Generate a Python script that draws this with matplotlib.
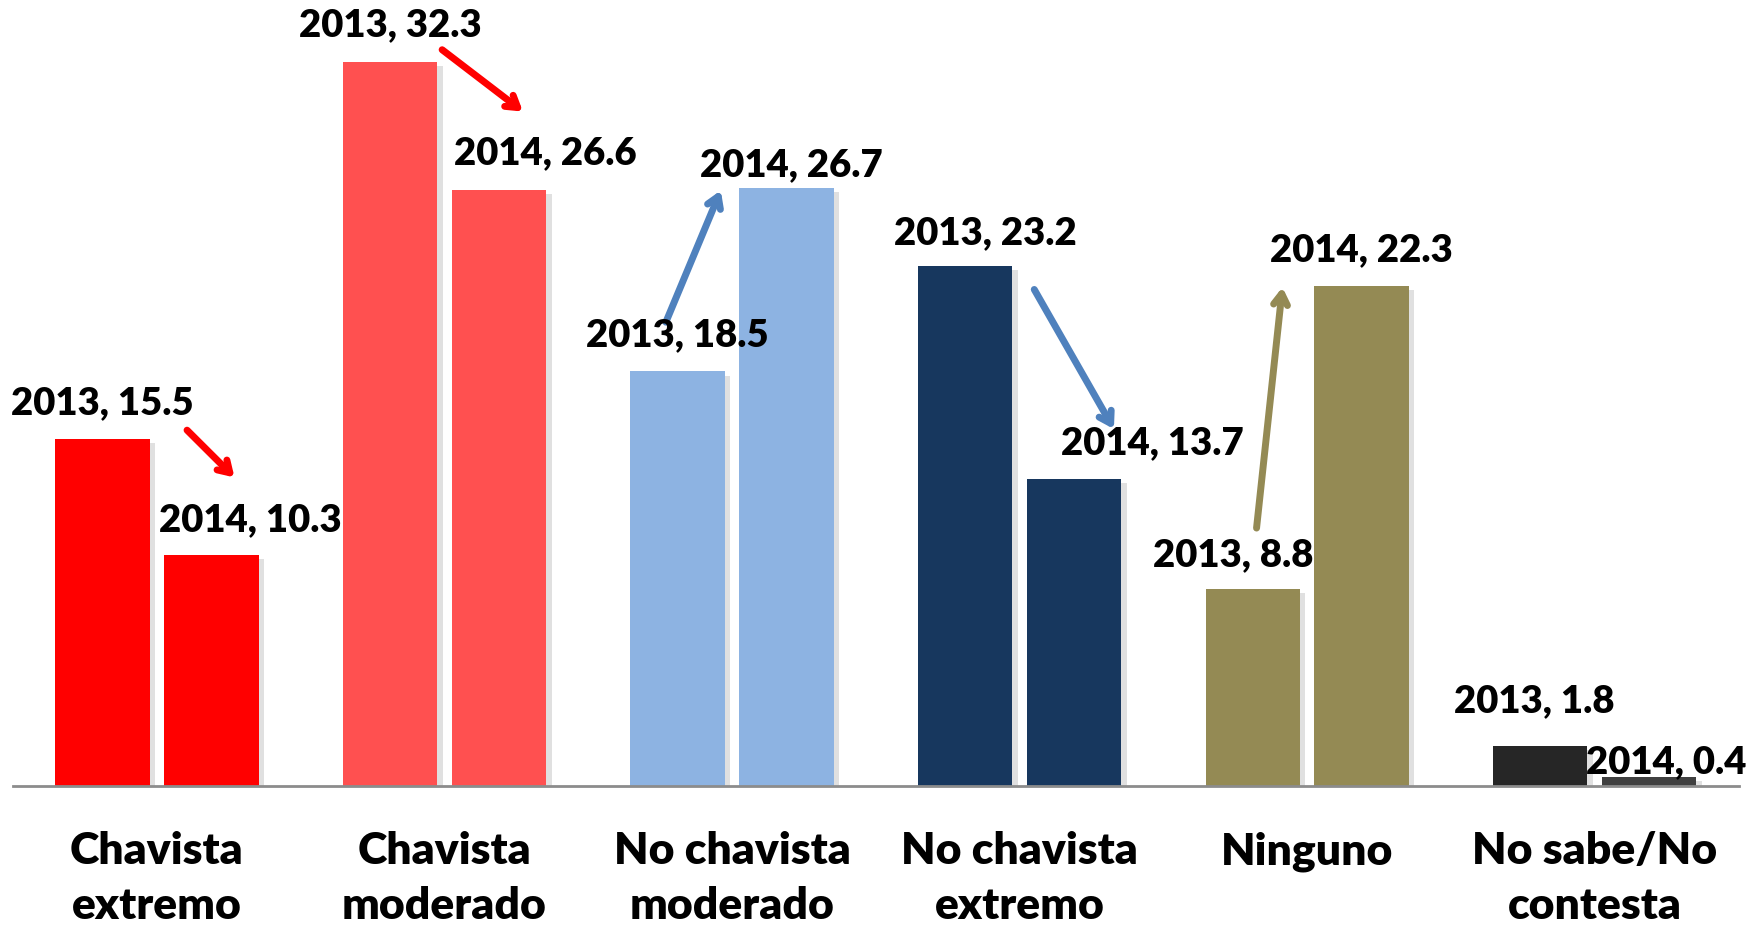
import numpy as np
import matplotlib.pyplot as plt
import matplotlib.patheffects as pe

categories = ["Chavista\nextremo", "Chavista\nmoderado", "No chavista\nmoderado",
              "No chavista\nextremo", "Ninguno", "No sabe/No\ncontesta"]
v2013 = [15.5, 32.3, 18.5, 23.2, 8.8, 1.8]
v2014 = [10.3, 26.6, 26.7, 13.7, 22.3, 0.4]
colors_2013 = ["#FF0000", "#FF5050", "#8DB3E2", "#17375E", "#948A54", "#262626"]
colors_2014 = ["#FF0000", "#FF5050", "#8DB3E2", "#17375E", "#948A54", "#404040"]

# label placement (dx in group units, dy above bar top)
lab13_dx = [0.0, 0.0, 0.0, 0.07, -0.066, -0.02]
lab13_dy = [1.64, 1.72, 1.65, 1.52, 1.55, 2.02]
lab14_dx = [0.135, 0.162, 0.016, 0.273, 0.0, 0.06]
lab14_dy = [1.61, 1.69, 1.04, 1.63, 1.67, 0.71]

# arrows: group index, start (dx, dy from 2013 top), end (dx, dy from 2014 top), colour
arrows = [
    (0, (0.105, 0.38), (0.27, 3.47), "#FF0000"),
    (1, (0.992, 0.56), (1.273, 3.50), "#FF0000"),
    (2, (1.770, 2.20), (1.961, -0.12), "#4F81BD"),
    (3, (3.051, -1.04), (3.328, 2.23), "#4F81BD"),
    (4, (3.824, 2.71), (3.914, -0.04), "#948A54"),
]

plt.rcParams['font.family'] = ['Lato', 'DejaVu Sans']

fig = plt.figure(figsize=(17.65, 9.28), dpi=100)
ax = fig.add_axes([0.0074, 0.152, 0.9776, 0.845])

x = np.arange(len(categories))
w = 0.328
off = 0.379 / 2
shadow = [pe.withSimplePatchShadow(offset=(4, -3), shadow_rgbFace="#999999", alpha=0.3)]

b1 = ax.bar(x - off, v2013, w, color=colors_2013, zorder=2)
b2 = ax.bar(x + off, v2014, w, color=colors_2014, zorder=2)
for b in list(b1) + list(b2):
    b.set_path_effects(shadow)

for i in range(len(categories)):
    ax.text(x[i] - off + lab13_dx[i], v2013[i] + lab13_dy[i], f"2013, {v2013[i]}",
            ha="center", va="center", fontsize=27.5, fontweight="heavy", zorder=5)
    ax.text(x[i] + off + lab14_dx[i], v2014[i] + lab14_dy[i], f"2014, {v2014[i]}",
            ha="center", va="center", fontsize=27.5, fontweight="heavy", zorder=5)

for g, (sx, sy), (ex, ey), c in arrows:
    ax.annotate("", xy=(ex, v2014[g] + ey), xytext=(sx, v2013[g] + sy),
                arrowprops=dict(arrowstyle="->,head_length=0.8,head_width=0.5",
                                color=c, lw=5, capstyle="round", joinstyle="round",
                                shrinkA=0, shrinkB=0),
                zorder=4)

ax.set_xlim(-0.5, 5.5)
ax.set_ylim(0, 35)
ax.set_xticks(x)
ax.set_xticklabels(categories, fontsize=32, fontweight="heavy", linespacing=1.45)
ax.tick_params(axis="x", length=0, pad=32)
ax.set_yticks([])
for s in ["top", "right", "left"]:
    ax.spines[s].set_visible(False)
ax.spines["bottom"].set_color("#8C8C8C")
ax.spines["bottom"].set_linewidth(2)

fig.savefig("out.png", dpi=100)
